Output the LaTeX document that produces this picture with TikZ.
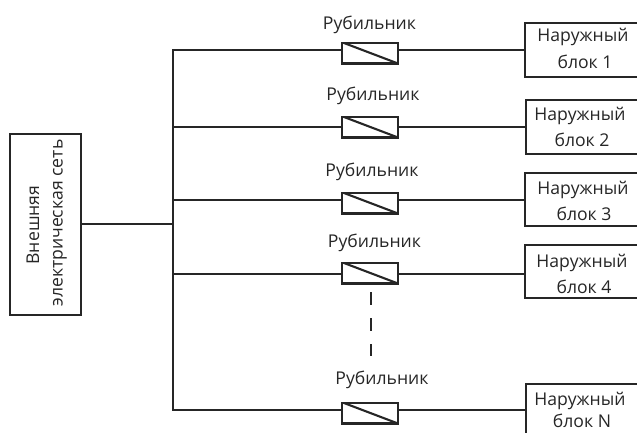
\documentclass[tikz,border=0pt]{standalone}
\usepackage{fontspec}
\setmainfont{Open Sans}
\usetikzlibrary{calc}
\tikzset{
  wire/.style={line width=2.1pt,draw=black!85},
  boxn/.style={draw=black!85,line width=2.1pt,rectangle,inner sep=0pt,outer sep=0pt,anchor=north west},
  lab/.style={font=\fontsize{17.6}{20}\selectfont,text=black!85,inner sep=0pt}
}
\begin{document}
\begin{tikzpicture}[x=1pt,y=-1pt]
\useasboundingbox (0,0) rectangle (637,432);
\clip (0,0) rectangle (637,432);
\node[boxn,minimum width=71pt,minimum height=181pt] (net) at (10,134) {};
\node[lab,rotate=90] (t1) at (33,225) {Внешняя};
\node[lab,rotate=90] (t2) at (60,223) {электрическая сеть};
\coordinate (bus) at (173,224);
\coordinate (bt) at (173,50);
\coordinate (bb) at (173,410);
\draw[wire] (net.east |- bus) -- (bus);
\draw[wire,line cap=rect] (bt) -- (bb);
% row: id, wire y, switch top, box x, box top, box height, label x, label y, text1 x, y, text2 x, y, caption
\foreach \id/\wy/\st/\bx/\bt/\bh/\lx/\ly/\ax/\ay/\cx/\cy/\cap in {
  1/50/43/525/23/54/369.5/25/583/37/585/62/{блок 1},
  2/127/117/526/100/54/373/96/580/116/582/140/{блок 2},
  3/200/193/525/173/53/372/172/583/190/584/214/{блок 3},
  4/274/263/525/245/53/374.5/243/582/263/584/287/{блок 4},
  5/410/403/526/384/60/382/380/580/401/582/421/{блок N}}{
  \coordinate (j\id) at (173,\wy);
  \node[boxn,minimum width=56pt,minimum height=20.5pt] (sw\id) at (342,\st) {};
  \node[boxn,minimum width=130pt,minimum height=\bh pt] (bl\id) at (\bx,\bt) {};
  \draw[wire] (j\id) -- (j\id -| sw\id.west);
  \draw[wire] (j\id -| sw\id.east) -- (j\id -| bl\id.west);
  \draw[wire] ($(sw\id.north west)+(2,0)$) -- (sw\id.south east);
  \node[lab] (cap\id) at (\lx,\ly) {Рубильник};
  \node[lab] (na\id) at (\ax,\ay) {Наружный};
  \node[lab] (bk\id) at (\cx,\cy) {\cap};
}
\coordinate (d1) at (371,292);
\coordinate (d2) at (371,356);
\draw[wire,line width=2.6pt,dash pattern=on 12.5pt off 13.5pt] (d1) -- (d2);
\end{tikzpicture}
\end{document}
